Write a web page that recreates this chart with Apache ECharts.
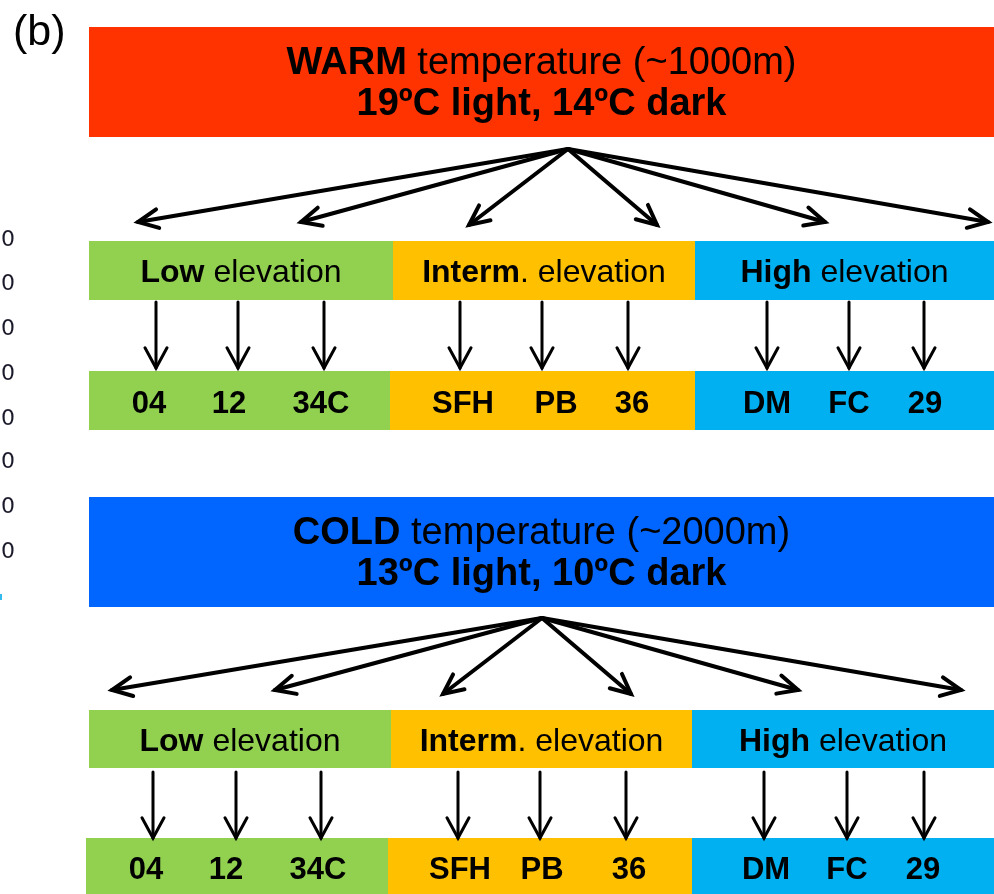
<!DOCTYPE html>
<html><head><meta charset="utf-8">
<script src="https://cdn.jsdelivr.net/npm/echarts@6/dist/echarts.min.js"></script>
<style>html,body{margin:0;padding:0;background:#fff}#c{width:994px;height:894px}</style>
</head><body><div id="c"></div>
<script>
// ---------- content ----------
const panelNames  = ['WARM', 'COLD'];
const panelDesc   = [' temperature (~1000m)', ' temperature (~2000m)'];
const panelCond   = ['19ºC light, 14ºC dark', '13ºC light, 10ºC dark'];
const panelColors = ['#FF3300', '#0066FF'];
const elevNames   = ['Low', 'Interm', 'High'];
const elevSuffix  = [' elevation', '. elevation', ' elevation'];
const elevColors  = ['#92D050', '#FFC000', '#00B0F0'];
const sites       = [['04', '12', '34C'], ['SFH', 'PB', '36'], ['DM', 'FC', '29']];
const panelTag    = '(b)';
const edgeTicks   = ['0', '0', '0', '0', '0', '0', '0', '0'];

// ---------- layout (pixels of the 994x894 canvas) ----------
const FONT = '"Liberation Sans", Arial, Helvetica, sans-serif';
const LAY = {
  panelTop: [27, 497], panelH: 110, left: 89, right: 994, titleDy: 2.5,
  elevTop: [241, 710], elevH: [59, 58], elevDy: 3,
  elevEdges: [[89, 393, 695, 994], [89, 391, 692, 994]],
  siteTop: [371, 838], siteH: [59, 56], siteDy: 4,
  siteEdges: [[89, 390, 695, 994], [86, 388, 692, 994]],
  fanApex: [[568, 149], [542, 618]],
  fanTipX: [[138, 301, 469, 657, 825, 988], [112, 275, 443, 631, 798, 961]],
  fanTipY: [[222, 222, 225, 225, 222, 222], [690, 690, 694, 694, 690, 690]],
  downX: [[156, 238, 324, 460, 542, 628, 767, 849, 924], [153, 236, 321, 458, 540, 626, 764, 847, 924]],
  downY: [[302, 368], [772, 838]],
  labelX: [[149, 229, 321, 463, 556, 632, 767, 849, 925], [146, 226, 318, 460, 542, 629, 766, 847, 923]],
  edgeTickY: [240, 284, 329, 374, 419, 462, 507, 552]
};

const RICH = {
  tb: {fontFamily: FONT, fontWeight: 'bold', fontSize: 38, lineHeight: 41, fill: '#000', color: '#000'},
  tr: {fontFamily: FONT, fontWeight: 'normal', fontSize: 38, lineHeight: 41, fill: '#000', color: '#000'},
  eb: {fontFamily: FONT, fontWeight: 'bold', fontSize: 32, lineHeight: 36, fill: '#000', color: '#000'},
  er: {fontFamily: FONT, fontWeight: 'normal', fontSize: 32, lineHeight: 36, fill: '#000', color: '#000'},
  sb: {fontFamily: FONT, fontWeight: 'bold', fontSize: 31, lineHeight: 36, fill: '#000', color: '#000'}
};

// ---------- build items ----------
const rects = [], arrows = [], texts = [];
for (let p = 0; p < 2; p++) {
  const top = LAY.panelTop[p];
  rects.push({x0: LAY.left, y0: top, x1: LAY.right, y1: top + LAY.panelH, color: panelColors[p]});
  texts.push({x: (LAY.left + LAY.right) / 2, y: top + LAY.panelH / 2 + LAY.titleDy,
    text: '{tb|' + panelNames[p] + '}{tr|' + panelDesc[p] + '}\n{tb|' + panelCond[p] + '}'});
  const ap = LAY.fanApex[p];
  LAY.fanTipX[p].forEach((tx, i) => arrows.push({x1: ap[0], y1: ap[1], x2: tx, y2: LAY.fanTipY[p][i], w: 4, head: 22, ang: 0.44}));
  for (let g = 0; g < 3; g++) {
    const e = LAY.elevEdges[p], s = LAY.siteEdges[p];
    const ey = LAY.elevTop[p], sy = LAY.siteTop[p];
    rects.push({x0: e[g], y0: ey, x1: e[g + 1], y1: ey + LAY.elevH[p], color: elevColors[g]});
    rects.push({x0: s[g], y0: sy, x1: s[g + 1], y1: sy + LAY.siteH[p], color: elevColors[g]});
    texts.push({x: (e[g] + e[g + 1]) / 2, y: ey + LAY.elevH[p] / 2 + LAY.elevDy,
      text: '{eb|' + elevNames[g] + '}{er|' + elevSuffix[g] + '}'});
    sites[g].forEach((lab, k) => {
      const idx = g * 3 + k;
      texts.push({x: LAY.labelX[p][idx], y: sy + LAY.siteH[p] / 2 + LAY.siteDy, text: '{sb|' + lab + '}'});
      arrows.push({x1: LAY.downX[p][idx], y1: LAY.downY[p][0], x2: LAY.downX[p][idx], y2: LAY.downY[p][1], w: 3, head: 23, ang: 0.5});
    });
  }
}
texts.push({x: 13, y: 33, text: panelTag, align: 'left', plain: {fontFamily: FONT, fontSize: 43, fill: '#000'}});
edgeTicks.forEach((t, i) => texts.push({x: 1, y: LAY.edgeTickY[i], text: t, align: 'left',
  plain: {fontFamily: '"DejaVu Sans", sans-serif', fontSize: 22, fill: '#1a1a2a'}}));
rects.push({x0: 0, y0: 594, x1: 2, y1: 600, color: '#33bbee'});

const items = [].concat(rects.map(r => ({k: 'r', ...r})), arrows.map(a => ({k: 'a', ...a})), texts.map(t => ({k: 't', ...t})));

function renderItem(params, api) {
  const it = items[params.dataIndex];
  if (it.k === 'r') {
    const a = api.coord([it.x0, it.y0]), b = api.coord([it.x1, it.y1]);
    return {type: 'rect', shape: {x: a[0], y: a[1], width: b[0] - a[0], height: b[1] - a[1]}, style: {fill: it.color}};
  }
  if (it.k === 'a') {
    const a = api.coord([it.x1, it.y1]), b = api.coord([it.x2, it.y2]);
    const th = Math.atan2(a[1] - b[1], a[0] - b[0]);
    const w1 = [b[0] + it.head * Math.cos(th + it.ang), b[1] + it.head * Math.sin(th + it.ang)];
    const w2 = [b[0] + it.head * Math.cos(th - it.ang), b[1] + it.head * Math.sin(th - it.ang)];
    const st = {stroke: '#000', lineWidth: it.w, fill: null, lineCap: 'round', lineJoin: 'miter'};
    return {type: 'group', children: [
      {type: 'line', shape: {x1: a[0], y1: a[1], x2: b[0], y2: b[1]}, style: st},
      {type: 'polyline', shape: {points: [w1, b, w2]}, style: st}
    ]};
  }
  const p = api.coord([it.x, it.y]);
  const style = Object.assign({text: it.text, align: it.align || 'center', verticalAlign: 'middle'},
    it.plain ? it.plain : {rich: RICH, fontFamily: FONT, fontSize: 31, fill: '#000'});
  return {type: 'text', x: p[0], y: p[1], style: style};
}

const chart = echarts.init(document.getElementById('c'), null, {renderer: 'canvas'});
chart.setOption({
  animation: false,
  grid: {left: 0, right: 0, top: 0, bottom: 0},
  xAxis: {type: 'value', min: 0, max: 994, show: false},
  yAxis: {type: 'value', min: 0, max: 894, inverse: true, show: false},
  series: [{
    type: 'custom', coordinateSystem: 'cartesian2d', clip: false, silent: true,
    renderItem: renderItem,
    data: items.map((it, i) => [i % 994, 0])
  }]
});
</script></body></html>
